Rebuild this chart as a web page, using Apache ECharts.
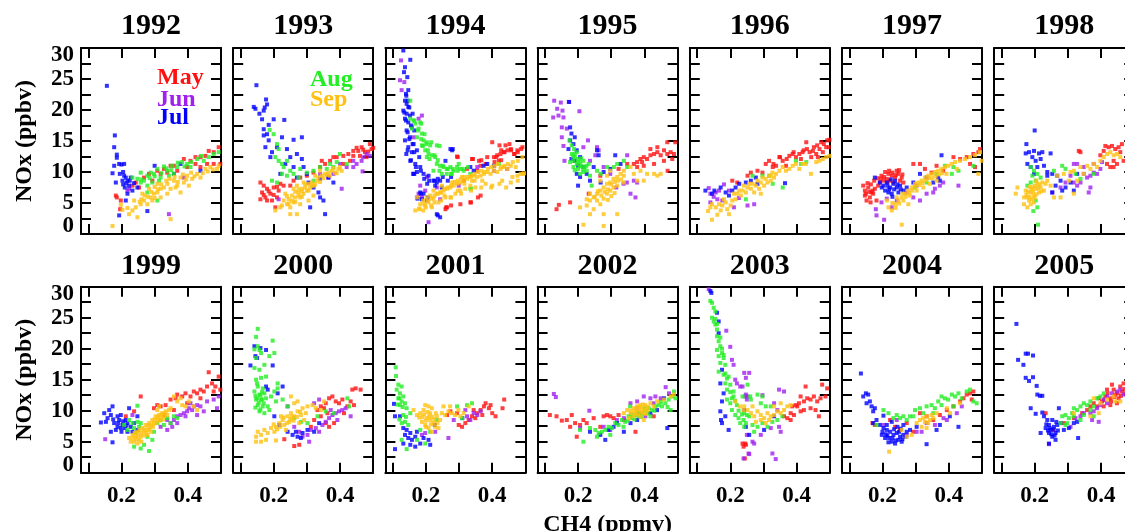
<!DOCTYPE html>
<html>
<head>
<meta charset="utf-8">
<script src="https://cdn.jsdelivr.net/npm/echarts@6/dist/echarts.min.js"></script>
<style>
  html, body { margin: 0; padding: 0; background: #fff; }
  #chart { width: 1125px; height: 531px; }
</style>
</head>
<body>
<div id="chart"></div>
<script>
// panels, in reading order
const years = [1992, 1993, 1994, 1995, 1996, 1997, 1998, 1999, 2000, 2001, 2002, 2003, 2004, 2005]
const months = ['May', 'Jun', 'Jul', 'Aug', 'Sep']
const monthColors = ['#ff1010', '#a020f0', '#0000ff', '#22ee22', '#ffc010']
const xTicks = [0.1, 0.2, 0.3, 0.4]
const xLabels = [0.2, 0.4]

// [CH4, NOx, CH4, NOx, ...] per year
const MAY = [
  [0.183,6.2, 0.186,5.9, 0.198,5.4, 0.196,4.0, 0.233,7.8, 0.243,8.3, 0.253,7.5, 0.268,9.1, 0.283,9.7, 0.308,10.2, 0.328,10.5, 0.358,11.0, 0.388,12.1, 0.408,11.8, 0.423,12.4, 0.438,12.4, 0.453,12.6, 0.463,13.4, 0.478,13.2, 0.493,14.0, 0.498,11.3, 0.458,11.3, 0.438,10.8, 0.398,10.8, 0.348,11.0, 0.368,10.2, 0.318,9.7, 0.293,8.6, 0.423,11.3, 0.478,11.3, 0.338,9.9],
  [0.16,8.3, 0.17,7.8, 0.18,7.3, 0.165,6.7, 0.175,5.9, 0.19,6.5, 0.2,7.5, 0.215,7.0, 0.23,7.8, 0.16,5.6, 0.18,5.4, 0.195,5.4, 0.205,4.3, 0.21,5.9, 0.22,8.1, 0.26,8.6, 0.28,9.1, 0.3,9.4, 0.32,9.9, 0.34,10.8, 0.355,11.3, 0.37,11.8, 0.39,12.4, 0.41,12.6, 0.425,12.9, 0.44,13.4, 0.455,13.4, 0.465,14.0, 0.475,13.2, 0.49,14.5, 0.495,13.7, 0.48,12.4, 0.46,12.6, 0.43,11.8, 0.41,11.3, 0.38,12.4, 0.345,11.8, 0.25,7.8, 0.17,6.3, 0.185,6.9, 0.2,6.3, 0.21,7.6, 0.44,12.6, 0.45,13.9, 0.47,13.6, 0.485,13.3, 0.5,13.9],
  [0.294,12.5, 0.339,12.1, 0.36,11.8, 0.38,11.3, 0.4,14.8, 0.405,12.4, 0.415,12.7, 0.425,12.9, 0.435,13.2, 0.446,13.5, 0.456,13.7, 0.466,12.9, 0.476,13.5, 0.491,14.0, 0.44,14.3, 0.42,11.8, 0.385,12.4, 0.365,11.0, 0.354,10.2, 0.264,4.3, 0.259,4.0, 0.334,5.1, 0.365,6.2, 0.314,8.6, 0.304,4.8, 0.324,10.5, 0.422,14.3, 0.427,13.5, 0.437,13.2, 0.452,14.5, 0.457,13.5, 0.467,12.9, 0.477,13.2, 0.487,13.7, 0.412,12.4, 0.427,11.9, 0.407,11.6, 0.367,11.9, 0.342,12.1, 0.296,12.4, 0.336,5.1, 0.357,5.9, 0.261,4.3, 0.276,4.6],
  [0.135,4.0, 0.142,4.7, 0.176,5.1, 0.232,6.5, 0.267,9.4, 0.322,10.5, 0.368,11.3, 0.378,11.6, 0.388,12.1, 0.398,12.4, 0.408,12.1, 0.418,12.7, 0.429,12.9, 0.439,13.2, 0.449,12.7, 0.459,13.5, 0.469,12.9, 0.479,13.2, 0.489,12.9, 0.493,14.8, 0.469,14.8, 0.439,14.0, 0.418,13.7, 0.393,11.6, 0.378,10.8, 0.398,11.0, 0.429,11.3, 0.459,11.8, 0.484,12.1, 0.47,10.2, 0.348,11.3],
  [0.206,8.6, 0.221,8.3, 0.252,9.4, 0.262,9.9, 0.282,10.2, 0.307,11.3, 0.317,11.8, 0.338,11.0, 0.348,12.4, 0.358,11.8, 0.368,11.0, 0.378,12.6, 0.388,12.9, 0.398,12.4, 0.408,12.9, 0.418,13.2, 0.429,14.8, 0.439,13.2, 0.449,13.4, 0.459,12.9, 0.469,13.7, 0.474,14.8, 0.479,13.2, 0.489,14.0, 0.499,15.2, 0.444,12.4, 0.464,12.4, 0.413,12.1, 0.297,9.9, 0.328,10.8, 0.33,11.3, 0.35,12.4, 0.37,12.1, 0.391,13.2, 0.421,13.5, 0.431,13.7, 0.452,14.0, 0.462,14.3, 0.482,14.5, 0.492,15.1, 0.497,14.0],
  [0.142,7.8, 0.147,7.0, 0.157,7.5, 0.167,6.7, 0.162,5.9, 0.182,5.4, 0.172,6.5, 0.177,7.3, 0.187,7.8, 0.192,8.3, 0.203,8.6, 0.213,8.9, 0.218,9.7, 0.228,9.4, 0.238,9.1, 0.248,9.7, 0.253,8.6, 0.258,9.1, 0.263,8.3, 0.233,8.3, 0.243,10.2, 0.197,9.4, 0.208,10.0, 0.223,8.6, 0.147,6.2, 0.152,5.4, 0.164,5.1, 0.313,11.3, 0.328,10.5, 0.363,11.0, 0.383,10.2, 0.414,12.4, 0.434,12.1, 0.454,12.4, 0.474,12.9, 0.489,13.2, 0.494,13.7, 0.479,10.8, 0.464,11.3, 0.348,9.9, 0.293,11.3, 0.155,8.2, 0.165,8.0, 0.175,8.6, 0.185,9.0, 0.195,8.9, 0.205,9.2, 0.215,8.4, 0.22,10.2, 0.23,9.9, 0.24,9.5, 0.25,10.3, 0.26,9.6, 0.17,7.0, 0.16,6.8, 0.15,6.5],
  [0.333,13.4, 0.338,13.2, 0.398,12.7, 0.408,13.4, 0.413,14.2, 0.423,14.0, 0.433,14.2, 0.443,13.7, 0.453,14.0, 0.463,14.5, 0.418,11.3, 0.428,10.8, 0.438,11.8, 0.448,11.3, 0.458,13.2, 0.468,11.8, 0.438,10.8],
  [0.238,9.9, 0.213,9.1, 0.258,12.3, 0.298,10.4, 0.308,10.9, 0.318,10.7, 0.333,10.9, 0.348,11.8, 0.363,12.0, 0.368,12.6, 0.383,12.3, 0.393,12.8, 0.408,12.3, 0.418,13.1, 0.428,12.8, 0.438,13.4, 0.448,13.1, 0.458,13.9, 0.463,16.2, 0.473,14.4, 0.483,13.9, 0.493,15.5, 0.498,13.4, 0.478,13.1, 0.438,12.0, 0.398,11.2, 0.358,10.1, 0.328,9.3],
  [0.232,5.4, 0.277,4.5, 0.262,4.3, 0.312,7.4, 0.322,8.5, 0.332,10.1, 0.342,10.7, 0.352,10.4, 0.357,11.2, 0.367,12.0, 0.377,12.3, 0.387,11.5, 0.397,11.2, 0.407,11.8, 0.422,10.7, 0.432,11.5, 0.442,10.9, 0.437,13.4, 0.447,13.6, 0.462,13.4, 0.342,9.1, 0.357,8.0, 0.367,7.4, 0.382,8.0, 0.362,9.6, 0.412,9.6],
  [0.264,9.3, 0.274,9.9, 0.294,9.6, 0.299,7.7, 0.309,7.4, 0.319,8.0, 0.329,8.5, 0.339,9.1, 0.349,8.8, 0.354,9.6, 0.365,10.1, 0.375,10.7, 0.38,11.2, 0.39,10.4, 0.4,9.6, 0.41,9.1, 0.395,10.9, 0.344,10.1, 0.431,10.4, 0.436,11.8, 0.37,9.3],
  [0.115,9.3, 0.135,9.1, 0.151,8.4, 0.166,8.5, 0.181,9.3, 0.191,8.0, 0.206,7.7, 0.196,5.8, 0.216,8.5, 0.226,8.0, 0.176,7.4, 0.247,8.8, 0.267,7.4, 0.277,9.1, 0.287,9.3, 0.297,9.1, 0.307,8.8, 0.322,9.3, 0.338,8.5, 0.373,6.6, 0.383,9.6, 0.428,9.1],
  [0.24,4.2, 0.245,4.7, 0.237,4.7, 0.247,4.5, 0.244,2.3, 0.362,9.1, 0.372,8.8, 0.382,8.5, 0.392,9.3, 0.402,10.7, 0.407,11.2, 0.412,12.3, 0.422,11.5, 0.432,12.0, 0.427,13.9, 0.442,11.8, 0.452,12.3, 0.462,11.5, 0.472,12.0, 0.477,14.2, 0.492,13.6, 0.487,12.3, 0.467,9.1, 0.457,10.1, 0.442,10.4, 0.422,10.1, 0.397,10.9, 0.387,10.7, 0.382,9.6, 0.412,9.9],
  [0.17,8.0, 0.177,7.7, 0.223,8.5, 0.238,7.4, 0.253,6.9, 0.273,8.0, 0.293,6.6, 0.313,9.6, 0.333,9.1, 0.353,8.5, 0.373,9.3, 0.394,10.1, 0.414,10.7, 0.434,11.5, 0.444,12.0, 0.454,12.6, 0.464,12.8, 0.474,13.1, 0.469,11.8],
  [0.233,9.6, 0.258,6.9, 0.288,8.0, 0.318,8.8, 0.343,9.6, 0.358,10.1, 0.378,11.2, 0.393,12.0, 0.403,11.5, 0.413,12.3, 0.418,13.4, 0.428,12.0, 0.433,14.2, 0.438,13.4, 0.443,12.6, 0.448,11.2, 0.453,12.0, 0.458,13.9, 0.468,14.4, 0.463,13.1, 0.473,12.8, 0.408,10.7, 0.428,10.9, 0.388,10.7, 0.368,10.7, 0.41,11.7, 0.42,12.8, 0.43,11.5, 0.44,12.2, 0.45,12.8, 0.46,12.4, 0.47,13.5, 0.48,13.0, 0.49,12.8]
]

const JUN = [
  [0.343,3.2, 0.218,7.0, 0.223,7.3, 0.388,9.1],
  [0.4,11.3, 0.42,10.8, 0.44,11.8, 0.45,11.3, 0.465,11.8, 0.47,12.4, 0.48,12.9, 0.49,12.6, 0.468,10.1, 0.405,7.3, 0.38,9.7, 0.365,9.1, 0.34,9.7, 0.215,5.6, 0.44,10.8],
  [0.125,28.0, 0.122,24.8, 0.127,23.2, 0.135,24.5, 0.178,18.6, 0.188,19.1, 0.163,15.6, 0.161,9.7, 0.183,7.8, 0.198,7.0, 0.188,5.9, 0.233,7.5, 0.208,1.9, 0.243,5.6, 0.173,5.9, 0.178,6.5, 0.299,7.8, 0.355,10.8, 0.405,10.2, 0.445,10.5, 0.203,9.2],
  [0.128,21.5, 0.148,21.2, 0.137,20.2, 0.153,19.9, 0.172,21.3, 0.125,18.8, 0.141,19.1, 0.156,18.8, 0.151,17.2, 0.166,17.0, 0.151,15.6, 0.204,19.8, 0.156,14.2, 0.159,11.8, 0.216,14.0, 0.23,15.1, 0.257,14.0, 0.262,13.5, 0.236,11.8, 0.277,10.8, 0.297,9.7, 0.347,8.3, 0.368,8.6, 0.378,8.3, 0.373,5.9, 0.358,6.5, 0.348,12.7, 0.337,8.1, 0.315,7.5, 0.252,12.7],
  [0.135,7.4, 0.14,6.5, 0.15,6.0, 0.161,5.6, 0.14,5.1, 0.181,8.0, 0.156,6.7, 0.166,7.0, 0.196,7.0, 0.211,4.3, 0.252,4.6, 0.272,4.8, 0.226,5.8, 0.176,5.4],
  [0.18,4.0, 0.205,2.3, 0.182,3.0, 0.197,5.1, 0.213,5.7, 0.228,4.3, 0.243,5.4, 0.293,5.9, 0.313,5.4, 0.333,6.5, 0.353,6.7, 0.358,7.3, 0.373,7.8, 0.383,8.3, 0.429,7.8, 0.303,7.8, 0.273,6.7],
  [0.278,7.5, 0.293,8.3, 0.308,9.4, 0.318,8.3, 0.328,7.8, 0.338,8.3, 0.348,9.7, 0.358,9.1, 0.368,9.4, 0.378,9.9, 0.388,9.7, 0.398,10.5, 0.368,7.5, 0.363,6.7, 0.348,10.8, 0.318,11.3, 0.328,11.3, 0.403,11.6, 0.253,6.7, 0.378,11.3],
  [0.151,5.4, 0.233,9.3, 0.318,7.4, 0.338,8.5, 0.348,8.0, 0.358,8.5, 0.368,9.1, 0.378,9.3, 0.388,9.6, 0.398,9.9, 0.403,10.4, 0.413,10.1, 0.418,10.7, 0.428,10.9, 0.438,10.7, 0.448,9.9, 0.408,11.2, 0.393,9.1, 0.368,8.0, 0.353,7.4, 0.338,6.9, 0.478,11.8, 0.493,12.3, 0.488,10.4, 0.458,11.5, 0.428,9.3],
  [0.242,10.7, 0.262,7.4, 0.277,6.6, 0.287,5.8, 0.302,6.1, 0.312,6.9, 0.327,7.2, 0.337,6.6, 0.347,7.7, 0.357,8.2, 0.367,8.8, 0.377,9.3, 0.387,9.6, 0.397,9.9, 0.407,10.1, 0.417,10.4, 0.432,9.1, 0.337,11.8, 0.322,11.2, 0.372,10.1, 0.392,8.5, 0.307,5.0],
  [0.188,6.1, 0.198,6.4, 0.228,6.6, 0.268,5.6, 0.284,8.5, 0.324,9.1, 0.344,9.6, 0.355,9.3, 0.365,9.9, 0.334,8.5, 0.319,10.1],
  [0.127,12.7, 0.133,12.2, 0.234,10.0, 0.206,7.2, 0.277,7.4, 0.297,6.9, 0.317,8.5, 0.338,8.8, 0.358,11.2, 0.378,11.5, 0.398,12.3, 0.418,12.0, 0.433,12.3, 0.449,12.0, 0.464,13.8, 0.474,12.8, 0.428,11.2, 0.378,10.4, 0.403,9.1],
  [0.135,29.6, 0.188,22.9, 0.2,20.3, 0.205,18.2, 0.21,17.4, 0.215,15.0, 0.22,14.4, 0.23,13.9, 0.245,12.3, 0.25,11.8, 0.25,6.1, 0.24,2.3, 0.255,3.1, 0.242,16.1, 0.257,16.1, 0.247,15.3, 0.237,13.9, 0.247,12.6, 0.252,12.3, 0.297,12.5, 0.332,11.2, 0.347,13.4, 0.362,13.1, 0.267,5.0, 0.272,4.7, 0.257,3.0, 0.327,3.1, 0.337,2.2, 0.347,7.4, 0.322,7.2, 0.292,6.1, 0.352,6.6, 0.342,10.1],
  [0.203,7.7, 0.273,6.1, 0.303,6.6, 0.318,6.6, 0.333,8.0, 0.358,7.7, 0.384,8.8, 0.394,8.5, 0.424,9.6, 0.439,10.7, 0.243,8.5],
  [0.243,4.6, 0.308,7.4, 0.323,8.8, 0.338,9.1, 0.348,9.6, 0.368,9.6, 0.378,9.9, 0.388,10.4, 0.398,10.9, 0.408,11.8, 0.418,12.3, 0.433,12.8, 0.448,13.1, 0.458,13.4, 0.468,12.6, 0.393,8.2, 0.373,8.5, 0.418,11.2]
]

const JUL = [
  [0.156,23.9, 0.18,15.9, 0.178,14.0, 0.186,12.8, 0.186,12.3, 0.178,11.0, 0.173,9.8, 0.193,11.3, 0.2,11.2, 0.208,11.3, 0.183,8.3, 0.208,9.4, 0.213,9.1, 0.218,8.6, 0.203,8.6, 0.228,9.1, 0.223,7.8, 0.21,7.5, 0.238,8.2, 0.233,7.0, 0.213,5.4, 0.193,3.0, 0.218,6.5, 0.248,7.5, 0.278,3.7, 0.3,11.0, 0.358,9.7, 0.378,11.3, 0.438,10.2, 0.195,9.7, 0.205,10.0, 0.215,8.2, 0.225,8.6, 0.205,8.0],
  [0.148,24.0, 0.14,20.5, 0.145,20.2, 0.157,19.4, 0.17,19.9, 0.177,21.7, 0.18,20.9, 0.173,20.4, 0.165,18.5, 0.17,16.9, 0.17,15.9, 0.18,16.1, 0.2,18.5, 0.185,17.6, 0.232,18.4, 0.175,14.0, 0.185,15.1, 0.21,14.0, 0.225,15.6, 0.26,15.2, 0.285,15.6, 0.24,13.7, 0.25,12.4, 0.27,12.9, 0.285,12.1, 0.29,10.8, 0.26,10.8, 0.235,11.3, 0.22,9.7, 0.27,9.1, 0.305,8.3, 0.32,7.5, 0.335,6.7, 0.35,5.4, 0.34,5.9, 0.355,3.2, 0.31,4.3, 0.365,9.1, 0.38,8.3, 0.3,9.7, 0.34,8.9, 0.19,12.4, 0.195,13.2],
  [0.132,29.6, 0.153,28.1, 0.137,26.9, 0.134,26.1, 0.144,25.3, 0.147,23.2, 0.141,22.3, 0.137,21.5, 0.142,21.0, 0.147,20.5, 0.132,19.9, 0.142,19.4, 0.152,19.1, 0.137,18.6, 0.147,18.0, 0.158,17.2, 0.142,16.7, 0.152,15.6, 0.137,15.1, 0.163,14.5, 0.147,14.0, 0.141,12.9, 0.158,13.2, 0.173,13.5, 0.153,11.8, 0.168,11.3, 0.183,10.8, 0.173,10.0, 0.193,9.7, 0.163,9.7, 0.208,9.4, 0.223,8.6, 0.233,8.3, 0.243,8.6, 0.248,7.5, 0.228,7.8, 0.204,8.1, 0.193,6.5, 0.183,6.7, 0.188,5.6, 0.204,5.4, 0.233,3.2, 0.243,2.7, 0.274,13.7, 0.279,13.5, 0.334,10.8, 0.344,10.2, 0.374,11.0, 0.385,11.3, 0.405,11.0, 0.259,11.8, 0.14,22.6, 0.145,21.5, 0.135,19.6, 0.15,20.4, 0.16,19.4, 0.14,18.3, 0.155,17.5, 0.145,16.4, 0.165,16.7, 0.15,15.3, 0.16,14.5, 0.145,13.5, 0.165,13.2, 0.18,12.4, 0.155,11.9, 0.17,10.8, 0.185,10.2, 0.165,9.7, 0.195,8.9, 0.21,8.6, 0.226,8.6, 0.236,8.9, 0.251,9.2, 0.266,8.6, 0.276,9.2, 0.281,13.7, 0.185,6.5, 0.206,5.9, 0.236,3.0, 0.175,5.7],
  [0.173,21.3, 0.176,17.2, 0.18,16.2, 0.19,15.6, 0.176,15.1, 0.186,14.5, 0.171,13.7, 0.196,13.5, 0.206,12.4, 0.18,12.1, 0.19,11.8, 0.2,11.0, 0.216,10.8, 0.196,9.7, 0.206,9.2, 0.226,9.7, 0.236,8.6, 0.2,7.8, 0.257,13.5, 0.262,12.7, 0.247,10.8, 0.277,10.0, 0.312,12.7, 0.268,8.3, 0.297,10.5, 0.328,11.3],
  [0.145,6.5, 0.171,7.5, 0.186,6.7, 0.206,7.0, 0.216,7.5, 0.227,8.1, 0.247,8.3, 0.277,9.1, 0.282,8.1, 0.262,8.6, 0.365,8.2, 0.196,6.2, 0.152,7.0, 0.125,7.0],
  [0.177,9.1, 0.192,8.3, 0.203,7.8, 0.213,8.3, 0.223,7.5, 0.233,8.1, 0.243,7.5, 0.218,6.7, 0.228,6.5, 0.248,6.7, 0.208,7.0, 0.238,8.6, 0.253,7.8, 0.263,7.0, 0.198,7.5, 0.273,7.5, 0.293,8.3, 0.313,9.7, 0.333,9.1, 0.353,8.3, 0.373,8.6, 0.378,12.7, 0.368,9.1, 0.215,7.8, 0.225,8.8, 0.235,7.2, 0.245,8.0, 0.22,7.2, 0.23,6.0, 0.255,7.2],
  [0.2,16.7, 0.175,14.5, 0.173,13.0, 0.183,13.2, 0.198,13.4, 0.213,13.0, 0.223,13.2, 0.248,13.0, 0.193,12.4, 0.203,11.8, 0.218,12.1, 0.178,11.3, 0.188,10.8, 0.208,10.8, 0.228,11.0, 0.238,10.0, 0.253,9.7, 0.268,9.4, 0.278,8.6, 0.263,7.8, 0.283,7.0, 0.253,6.7, 0.293,7.5, 0.308,8.3, 0.328,9.7, 0.318,7.0, 0.238,9.4, 0.198,9.7],
  [0.153,8.2, 0.158,8.8, 0.168,9.3, 0.173,10.7, 0.163,10.1, 0.148,9.6, 0.178,8.0, 0.183,6.9, 0.168,6.6, 0.193,8.5, 0.198,9.3, 0.213,8.5, 0.218,8.0, 0.228,7.4, 0.203,7.7, 0.188,7.4, 0.233,6.6, 0.218,6.6, 0.238,8.0, 0.248,9.1, 0.223,10.4, 0.188,9.1, 0.173,4.9, 0.198,7.2, 0.138,8.1, 0.248,6.9, 0.175,8.6, 0.19,8.0, 0.205,8.3, 0.21,7.2, 0.2,6.6, 0.215,7.6],
  [0.13,17.3, 0.145,18.8, 0.15,18.5, 0.16,20.1, 0.142,20.4, 0.177,19.8, 0.197,17.3, 0.177,13.9, 0.182,13.4, 0.212,12.8, 0.227,13.9, 0.202,9.1, 0.217,7.7, 0.242,6.6, 0.257,6.1, 0.272,5.8, 0.287,6.4, 0.282,5.6, 0.302,6.9, 0.322,6.6, 0.337,8.0, 0.267,6.6],
  [0.104,11.1, 0.107,9.1, 0.122,9.1, 0.132,7.2, 0.142,6.9, 0.153,6.4, 0.137,6.1, 0.147,5.6, 0.158,5.3, 0.168,5.8, 0.132,4.7, 0.153,4.5, 0.168,4.2, 0.183,4.7, 0.193,5.6, 0.208,5.3, 0.213,4.5, 0.107,3.8, 0.173,6.6, 0.227,7.7, 0.31,8.8],
  [0.236,6.6, 0.267,6.1, 0.282,5.3, 0.292,6.9, 0.307,7.4, 0.317,8.0, 0.338,6.6, 0.358,8.0, 0.378,8.5, 0.418,9.6, 0.438,10.1, 0.469,7.2, 0.459,12.0],
  [0.14,29.3, 0.143,29.0, 0.16,25.8, 0.165,24.4, 0.165,22.5, 0.175,16.6, 0.17,14.4, 0.18,12.8, 0.175,11.5, 0.17,9.9, 0.172,8.5, 0.175,8.0, 0.195,6.9, 0.185,9.1, 0.242,10.1, 0.247,7.4, 0.302,6.9, 0.332,9.1, 0.257,6.1],
  [0.135,16.0, 0.142,12.3, 0.15,12.8, 0.157,12.6, 0.162,11.5, 0.152,11.2, 0.167,10.7, 0.177,10.4, 0.172,9.9, 0.172,8.0, 0.192,7.7, 0.203,7.2, 0.213,6.9, 0.223,6.6, 0.233,6.1, 0.243,6.4, 0.253,5.8, 0.263,6.1, 0.273,6.6, 0.248,5.3, 0.228,5.0, 0.238,4.7, 0.218,4.9, 0.258,5.0, 0.213,7.7, 0.228,8.2, 0.263,7.7, 0.283,6.9, 0.303,7.4, 0.333,4.6, 0.363,6.9, 0.373,7.7, 0.403,9.1, 0.429,7.4, 0.198,6.1, 0.203,9.2, 0.208,5.6, 0.182,8.5, 0.2,6.6, 0.21,6.2, 0.22,5.6, 0.23,5.6, 0.24,5.2, 0.25,6.6, 0.26,5.4, 0.27,5.8, 0.235,7.0, 0.245,7.4, 0.255,7.1, 0.215,6.0],
  [0.145,24.0, 0.15,18.2, 0.173,19.2, 0.18,19.2, 0.195,18.9, 0.166,17.4, 0.173,15.3, 0.195,15.4, 0.183,14.8, 0.206,14.0, 0.208,12.6, 0.216,12.4, 0.223,12.4, 0.188,10.4, 0.203,9.5, 0.223,9.7, 0.228,9.1, 0.238,8.5, 0.243,7.7, 0.253,8.5, 0.233,7.2, 0.248,6.9, 0.258,7.4, 0.263,6.4, 0.268,7.7, 0.278,8.0, 0.273,10.4, 0.253,5.8, 0.263,5.3, 0.243,6.4, 0.288,6.9, 0.303,7.2, 0.318,8.0, 0.328,8.2, 0.331,5.6, 0.243,4.7, 0.218,6.4, 0.235,7.8, 0.245,7.2, 0.25,6.2, 0.255,7.0, 0.26,6.0, 0.27,6.8, 0.265,8.2, 0.24,6.8]
]

const AUG = [
  [0.233,9.1, 0.248,8.9, 0.258,8.3, 0.268,8.6, 0.278,9.4, 0.288,9.9, 0.298,9.7, 0.308,10.5, 0.318,9.1, 0.328,10.9, 0.338,10.2, 0.353,11.0, 0.368,10.8, 0.383,11.6, 0.398,11.3, 0.408,10.8, 0.428,12.1, 0.448,11.8, 0.463,12.4, 0.478,12.9, 0.493,13.2, 0.293,8.3, 0.313,8.6, 0.258,9.9, 0.278,7.8, 0.343,9.4, 0.358,9.7, 0.308,5.4, 0.278,6.7, 0.26,8.8, 0.285,9.0, 0.3,9.3, 0.32,9.8, 0.335,10.6, 0.35,10.3, 0.37,11.5, 0.39,10.9, 0.41,11.6, 0.44,12.6],
  [0.188,16.8, 0.2,16.1, 0.21,14.5, 0.215,13.7, 0.205,12.4, 0.215,11.8, 0.225,11.3, 0.24,11.8, 0.23,10.8, 0.25,10.2, 0.26,9.7, 0.225,9.7, 0.24,9.4, 0.28,10.5, 0.3,9.9, 0.32,10.2, 0.34,10.8, 0.37,11.3, 0.38,10.8, 0.4,12.9, 0.42,11.3, 0.39,11.6, 0.36,10.5, 0.275,9.1, 0.21,8.3, 0.195,8.6, 0.32,8.6],
  [0.153,18.6, 0.163,18.3, 0.168,17.8, 0.183,18.0, 0.158,17.0, 0.178,17.0, 0.188,16.2, 0.173,15.6, 0.193,15.1, 0.203,14.8, 0.188,14.3, 0.213,14.3, 0.233,14.3, 0.198,13.5, 0.208,12.9, 0.218,12.7, 0.228,12.4, 0.203,12.4, 0.233,11.3, 0.243,11.0, 0.253,10.8, 0.263,10.5, 0.274,10.8, 0.284,10.2, 0.294,10.8, 0.304,10.5, 0.314,10.2, 0.334,9.7, 0.263,9.7, 0.248,9.7, 0.278,9.7, 0.334,7.3, 0.42,11.3, 0.223,10.2, 0.299,11.3, 0.153,21.5, 0.165,18.3, 0.186,17.8, 0.176,16.7, 0.196,16.1, 0.186,15.3, 0.201,14.5, 0.216,14.8, 0.206,13.5, 0.226,12.7, 0.211,12.1, 0.236,11.9, 0.251,11.0, 0.266,10.5, 0.281,10.5, 0.296,10.2, 0.311,10.5, 0.327,10.8, 0.241,10.2, 0.276,9.7, 0.336,7.3, 0.191,14.2, 0.241,14.2],
  [0.174,15.1, 0.181,14.3, 0.188,13.7, 0.196,13.2, 0.181,12.9, 0.19,12.4, 0.2,12.1, 0.186,11.8, 0.196,11.3, 0.206,11.6, 0.216,11.8, 0.21,11.0, 0.22,10.8, 0.232,11.3, 0.2,10.5, 0.216,10.0, 0.226,10.2, 0.206,9.7, 0.236,9.4, 0.186,10.8, 0.176,11.6, 0.241,7.8, 0.257,10.2, 0.287,10.8, 0.318,11.3, 0.338,11.8, 0.348,10.8, 0.308,10.8, 0.268,9.7, 0.19,12.9, 0.2,11.6, 0.21,12.2, 0.215,10.4, 0.225,11.0, 0.19,10.3, 0.205,10.9, 0.185,12.5],
  [0.267,9.4, 0.317,9.4, 0.328,8.1, 0.358,7.5, 0.398,11.8, 0.413,11.3, 0.429,11.6, 0.247,5.6, 0.297,9.4],
  [0.298,7.5, 0.333,8.3, 0.363,9.7, 0.388,11.0, 0.409,9.7, 0.429,10.2, 0.474,11.0, 0.414,10.8],
  [0.188,10.8, 0.198,10.2, 0.193,9.4, 0.208,9.7, 0.218,9.1, 0.203,8.6, 0.188,8.3, 0.178,7.8, 0.203,5.4, 0.208,4.3, 0.196,3.7, 0.21,1.5, 0.283,11.0, 0.323,9.7, 0.338,8.9, 0.293,10.5, 0.378,9.7, 0.258,10.2],
  [0.208,7.7, 0.223,8.5, 0.233,8.0, 0.238,7.2, 0.248,8.2, 0.253,7.4, 0.258,8.0, 0.248,10.8, 0.243,6.4, 0.238,4.2, 0.258,3.9, 0.268,4.5, 0.283,3.5, 0.278,5.8, 0.298,6.6, 0.308,8.0, 0.318,8.5, 0.328,7.7, 0.338,8.8, 0.348,8.0, 0.358,9.1, 0.368,8.8, 0.218,6.9, 0.293,5.3],
  [0.152,23.2, 0.147,21.9, 0.152,20.4, 0.142,19.9, 0.157,19.8, 0.162,19.3, 0.147,18.5, 0.197,21.3, 0.187,18.8, 0.202,19.3, 0.142,16.9, 0.157,16.6, 0.172,17.4, 0.162,15.3, 0.177,15.5, 0.147,15.0, 0.152,13.9, 0.167,13.6, 0.142,13.1, 0.157,12.6, 0.172,12.8, 0.147,11.8, 0.162,11.8, 0.177,12.0, 0.152,10.9, 0.167,10.7, 0.182,10.7, 0.157,9.9, 0.172,9.6, 0.187,10.1, 0.202,13.1, 0.212,13.6, 0.192,12.3, 0.207,11.5, 0.227,11.8, 0.242,10.7, 0.262,8.8, 0.282,8.2, 0.302,8.0, 0.332,9.1, 0.357,9.9, 0.382,9.6, 0.422,12.0, 0.427,10.7, 0.212,14.4, 0.145,12.4, 0.15,12.0, 0.155,11.3, 0.16,12.5, 0.165,11.8, 0.17,11.2, 0.145,10.5, 0.16,10.2, 0.165,13.0, 0.15,14.4],
  [0.109,17.0, 0.11,15.6, 0.117,14.2, 0.127,13.9, 0.112,13.4, 0.122,12.8, 0.132,12.3, 0.117,12.0, 0.127,11.5, 0.137,11.2, 0.122,10.9, 0.142,10.4, 0.132,9.3, 0.153,9.6, 0.127,8.0, 0.137,8.2, 0.147,7.7, 0.127,5.3, 0.142,3.8, 0.173,5.3, 0.198,4.7, 0.213,6.6, 0.294,10.7, 0.324,10.9, 0.339,11.2, 0.309,8.8, 0.183,6.9, 0.233,8.5, 0.12,12.0, 0.115,11.0, 0.13,10.6, 0.14,9.0, 0.12,8.6],
  [0.206,6.9, 0.216,5.0, 0.236,7.2, 0.252,6.9, 0.262,6.4, 0.272,6.6, 0.282,6.9, 0.292,7.4, 0.302,7.2, 0.312,8.0, 0.322,7.7, 0.332,8.5, 0.342,8.2, 0.352,9.1, 0.362,8.8, 0.372,9.3, 0.383,9.1, 0.393,9.6, 0.403,9.9, 0.413,10.4, 0.423,10.1, 0.433,10.7, 0.443,10.9, 0.453,10.7, 0.463,11.2, 0.473,11.8, 0.484,12.3, 0.494,12.0, 0.489,13.1, 0.479,10.1, 0.337,7.4, 0.297,6.1, 0.257,5.8, 0.357,10.7, 0.418,9.1, 0.35,8.4, 0.36,9.4, 0.37,8.6, 0.38,9.7, 0.39,9.0, 0.4,10.4, 0.41,9.6, 0.43,10.0, 0.45,11.4, 0.47,10.6],
  [0.14,27.7, 0.145,27.4, 0.15,26.6, 0.155,26.0, 0.145,25.0, 0.15,24.4, 0.155,23.9, 0.16,23.1, 0.16,22.0, 0.165,21.2, 0.17,20.4, 0.16,19.8, 0.175,19.3, 0.165,18.8, 0.18,18.5, 0.17,17.7, 0.185,17.4, 0.165,16.3, 0.18,15.8, 0.195,15.5, 0.185,14.4, 0.2,14.2, 0.19,13.4, 0.21,13.1, 0.19,11.8, 0.2,11.2, 0.21,12.3, 0.22,10.9, 0.205,10.1, 0.215,9.3, 0.225,8.8, 0.23,8.0, 0.24,8.5, 0.25,9.3, 0.26,12.3, 0.252,14.2, 0.237,12.3, 0.262,11.8, 0.282,12.6, 0.297,12.3, 0.242,9.6, 0.257,9.1, 0.247,8.0, 0.267,7.7, 0.282,7.4, 0.297,8.0, 0.312,7.4, 0.327,8.2, 0.342,8.5, 0.357,9.1, 0.242,7.4, 0.272,6.6, 0.292,11.2, 0.307,10.7, 0.322,10.7, 0.155,24.8, 0.16,24.0, 0.17,21.8, 0.175,20.0, 0.18,19.0, 0.185,16.0, 0.19,15.2, 0.2,13.0, 0.205,12.0, 0.215,11.6, 0.225,10.0, 0.235,9.4],
  [0.203,10.1, 0.218,9.6, 0.233,8.8, 0.243,9.3, 0.253,8.8, 0.263,9.1, 0.273,8.5, 0.283,9.1, 0.298,10.1, 0.313,10.4, 0.323,9.6, 0.333,10.7, 0.348,10.9, 0.358,10.4, 0.368,11.5, 0.378,12.3, 0.388,12.0, 0.398,11.8, 0.409,12.6, 0.419,12.3, 0.429,12.8, 0.439,12.0, 0.454,13.1, 0.464,13.4, 0.474,11.5, 0.484,11.2, 0.353,9.6, 0.378,10.9, 0.414,10.7, 0.293,9.1, 0.182,7.7],
  [0.283,9.1, 0.293,9.3, 0.303,8.8, 0.313,9.6, 0.318,10.4, 0.328,10.1, 0.338,10.7, 0.348,11.2, 0.358,10.9, 0.368,11.5, 0.378,10.7, 0.388,12.0, 0.398,12.3, 0.408,12.8, 0.298,8.0, 0.318,9.1, 0.348,9.3, 0.368,10.1, 0.378,9.1, 0.278,8.0, 0.338,8.5, 0.293,7.7]
]

const SEP = [
  [0.173,1.3, 0.198,4.7, 0.203,3.9, 0.218,4.2, 0.233,3.8, 0.243,4.3, 0.248,2.7, 0.258,4.8, 0.268,5.4, 0.278,4.8, 0.288,5.9, 0.298,6.5, 0.308,6.7, 0.318,7.3, 0.328,7.5, 0.338,8.1, 0.348,7.3, 0.358,8.6, 0.368,7.8, 0.378,9.1, 0.388,8.3, 0.398,9.4, 0.413,8.9, 0.428,9.7, 0.438,9.1, 0.453,10.5, 0.468,10.8, 0.488,10.5, 0.493,11.0, 0.348,2.4, 0.318,5.9, 0.293,5.4, 0.263,6.5, 0.283,7.3, 0.308,8.1, 0.338,6.5, 0.378,6.7, 0.238,5.4, 0.223,3.2, 0.363,7.5, 0.403,7.8, 0.26,5.6, 0.27,6.2, 0.29,6.8, 0.3,7.6, 0.31,7.2, 0.32,8.0, 0.335,8.6, 0.345,8.9, 0.36,9.2, 0.37,8.4, 0.385,9.6, 0.395,8.8, 0.41,9.9, 0.42,9.3, 0.445,9.8, 0.46,10.1, 0.475,10.4, 0.255,5.2, 0.28,6.0, 0.3,5.8],
  [0.205,3.8, 0.225,4.6, 0.23,5.4, 0.24,4.8, 0.25,4.3, 0.26,5.1, 0.27,3.2, 0.245,5.6, 0.255,6.2, 0.265,5.9, 0.275,6.7, 0.28,5.9, 0.285,7.3, 0.29,6.5, 0.295,7.5, 0.3,7.0, 0.305,8.1, 0.31,7.5, 0.315,8.3, 0.32,7.8, 0.33,8.6, 0.335,9.1, 0.345,9.4, 0.355,9.7, 0.365,9.9, 0.375,10.2, 0.385,9.9, 0.395,10.5, 0.405,10.2, 0.26,7.3, 0.27,7.8, 0.29,8.3, 0.235,6.5, 0.28,4.8, 0.32,6.2, 0.25,3.2, 0.305,5.4, 0.325,9.4, 0.34,10.2, 0.22,4.3, 0.265,6.8, 0.275,7.2, 0.285,6.9, 0.295,8.0, 0.305,7.0, 0.315,7.8, 0.325,8.0, 0.34,8.4, 0.35,9.0, 0.36,9.5, 0.37,9.4, 0.38,10.6, 0.39,9.8, 0.4,10.8, 0.245,4.9, 0.255,5.4, 0.265,5.2, 0.275,6.2, 0.285,6.0, 0.24,6.1],
  [0.168,3.8, 0.181,4.0, 0.192,3.8, 0.197,4.6, 0.208,5.1, 0.218,4.3, 0.192,5.4, 0.202,5.9, 0.213,6.2, 0.223,5.7, 0.233,6.5, 0.243,6.7, 0.254,7.0, 0.264,7.3, 0.274,7.5, 0.284,7.8, 0.294,8.1, 0.304,8.3, 0.314,8.6, 0.324,8.9, 0.334,9.2, 0.344,9.4, 0.354,9.2, 0.365,9.4, 0.375,9.7, 0.385,10.0, 0.395,9.7, 0.405,10.2, 0.415,10.0, 0.425,10.5, 0.435,10.8, 0.446,10.5, 0.456,11.0, 0.471,10.8, 0.486,9.7, 0.496,9.8, 0.476,9.4, 0.461,9.2, 0.456,8.3, 0.43,8.6, 0.4,7.8, 0.38,8.1, 0.349,7.5, 0.319,7.3, 0.289,6.5, 0.259,5.9, 0.238,5.1, 0.274,5.9, 0.304,7.0, 0.334,7.8, 0.223,7.0, 0.248,7.8, 0.279,8.3, 0.309,9.2, 0.339,8.6, 0.37,8.6, 0.183,4.8, 0.491,12.4, 0.173,5.9, 0.18,4.1, 0.195,4.9, 0.206,5.4, 0.216,5.7, 0.226,6.2, 0.236,6.5, 0.246,6.7, 0.256,7.3, 0.266,7.5, 0.276,7.8, 0.286,8.4, 0.296,8.6, 0.306,8.9, 0.316,9.2, 0.327,9.2, 0.337,9.4, 0.347,9.7, 0.357,10.0, 0.367,10.2, 0.377,10.0, 0.387,10.5, 0.397,10.8, 0.407,11.0, 0.417,11.3, 0.427,10.8, 0.437,11.0, 0.447,11.3, 0.462,11.6, 0.477,11.8, 0.492,9.7, 0.477,8.6, 0.442,7.5, 0.422,8.1, 0.397,7.5, 0.367,7.5, 0.336,7.0, 0.306,6.5, 0.276,5.9, 0.246,5.4, 0.216,4.6, 0.2,4.3, 0.296,7.0, 0.316,8.1, 0.347,8.6, 0.256,6.2, 0.226,5.1],
  [0.206,4.3, 0.226,4.6, 0.236,5.4, 0.247,5.9, 0.257,6.5, 0.267,7.0, 0.277,7.5, 0.287,8.1, 0.297,8.3, 0.307,8.9, 0.318,9.2, 0.328,9.7, 0.338,9.4, 0.257,5.4, 0.267,4.8, 0.277,5.7, 0.287,6.5, 0.297,7.0, 0.307,7.5, 0.318,7.8, 0.277,3.2, 0.318,3.2, 0.216,1.5, 0.277,1.3, 0.236,3.2, 0.247,4.0, 0.226,5.6, 0.287,9.4, 0.297,10.2, 0.338,10.2, 0.358,10.8, 0.378,8.6, 0.398,8.6, 0.408,9.7, 0.429,9.7, 0.439,9.4, 0.449,9.7, 0.388,10.2, 0.368,9.7, 0.267,8.6, 0.338,8.3, 0.236,6.5, 0.25,6.0, 0.26,6.9, 0.27,6.2, 0.28,6.8, 0.29,7.2, 0.3,8.0, 0.31,8.4, 0.32,8.6, 0.33,8.8, 0.29,5.5, 0.3,6.1, 0.31,6.6],
  [0.133,3.7, 0.14,4.3, 0.145,4.8, 0.156,4.3, 0.161,3.1, 0.145,2.3, 0.171,3.8, 0.176,4.6, 0.186,5.1, 0.196,3.2, 0.191,4.0, 0.201,4.6, 0.206,5.4, 0.216,5.6, 0.221,6.5, 0.232,6.2, 0.237,7.0, 0.247,6.7, 0.252,7.5, 0.262,7.3, 0.267,8.1, 0.277,7.8, 0.282,8.6, 0.292,8.3, 0.297,9.1, 0.307,8.9, 0.317,9.4, 0.327,9.9, 0.338,9.7, 0.348,10.2, 0.358,10.8, 0.368,10.2, 0.378,10.5, 0.388,11.0, 0.398,11.3, 0.408,10.5, 0.418,11.3, 0.428,11.3, 0.443,9.7, 0.459,11.6, 0.469,11.8, 0.479,12.1, 0.489,12.4, 0.499,12.6, 0.211,6.5, 0.226,7.0, 0.241,7.8, 0.257,8.1, 0.272,6.7, 0.287,7.3, 0.302,7.8, 0.312,8.3, 0.322,8.6, 0.332,9.1, 0.292,6.5, 0.166,4.8, 0.181,5.6, 0.322,9.4],
  [0.218,4.3, 0.228,3.8, 0.238,4.8, 0.248,5.4, 0.258,5.9, 0.268,6.5, 0.278,7.0, 0.288,7.5, 0.298,8.1, 0.308,8.3, 0.318,8.6, 0.328,9.1, 0.338,9.4, 0.348,9.7, 0.358,10.0, 0.368,10.2, 0.378,10.5, 0.388,10.8, 0.398,11.0, 0.409,11.3, 0.419,11.6, 0.434,11.8, 0.449,12.1, 0.464,12.4, 0.479,12.7, 0.494,13.2, 0.499,11.8, 0.258,1.5, 0.243,5.9, 0.263,5.4, 0.283,6.2, 0.303,7.0, 0.323,7.5, 0.343,8.1, 0.363,8.6, 0.278,4.8, 0.213,5.4, 0.393,9.7, 0.424,10.5, 0.489,9.7, 0.26,6.5, 0.27,6.0, 0.28,6.6, 0.29,7.0, 0.3,7.6, 0.31,7.9, 0.32,8.2, 0.33,8.6, 0.34,9.0, 0.35,9.0, 0.36,9.3, 0.37,9.6, 0.38,9.8, 0.25,4.9, 0.24,4.2, 0.23,5.0],
  [0.148,7.5, 0.143,6.5, 0.168,5.9, 0.173,7.0, 0.178,5.9, 0.183,5.4, 0.188,6.7, 0.193,7.5, 0.198,6.2, 0.203,7.3, 0.208,8.1, 0.213,6.7, 0.218,7.5, 0.223,8.3, 0.228,7.0, 0.233,8.1, 0.238,8.6, 0.178,4.3, 0.188,4.8, 0.168,4.8, 0.198,5.1, 0.248,7.8, 0.268,9.4, 0.288,9.7, 0.308,10.0, 0.318,10.2, 0.338,10.8, 0.358,11.0, 0.378,11.3, 0.398,11.8, 0.408,12.4, 0.418,12.9, 0.428,13.2, 0.438,12.7, 0.448,12.9, 0.458,12.4, 0.318,6.5, 0.278,5.9, 0.258,5.9, 0.303,8.6, 0.328,8.6, 0.348,9.7, 0.368,10.5, 0.388,10.8, 0.175,6.3, 0.185,6.0, 0.19,7.2, 0.195,6.8, 0.2,7.8, 0.205,6.4, 0.21,7.4, 0.215,8.0, 0.22,6.9, 0.18,6.8, 0.185,7.6, 0.19,5.6, 0.2,5.8, 0.205,8.6],
  [0.223,5.6, 0.233,6.1, 0.238,5.0, 0.243,5.8, 0.248,6.6, 0.253,5.3, 0.258,6.4, 0.263,7.2, 0.268,6.6, 0.273,7.7, 0.278,6.9, 0.283,8.0, 0.288,7.4, 0.293,8.5, 0.298,8.0, 0.303,9.1, 0.308,8.5, 0.313,9.3, 0.318,8.8, 0.323,9.6, 0.328,9.1, 0.333,9.9, 0.338,9.3, 0.343,10.1, 0.308,10.1, 0.313,10.7, 0.248,4.7, 0.258,5.8, 0.278,6.1, 0.288,6.6, 0.228,5.0, 0.358,12.3, 0.378,12.0, 0.393,10.7, 0.403,11.5, 0.418,10.7, 0.428,10.1, 0.368,11.5, 0.348,10.4, 0.383,10.9, 0.255,6.9, 0.26,5.0, 0.265,6.0, 0.27,7.0, 0.275,6.4, 0.28,7.6, 0.285,7.0, 0.29,7.8, 0.295,7.4, 0.3,8.6, 0.305,8.0, 0.31,9.0, 0.315,8.4, 0.32,9.4, 0.325,8.6, 0.33,9.6, 0.245,5.4, 0.25,6.0, 0.24,6.4, 0.235,5.6],
  [0.147,5.8, 0.152,6.6, 0.162,6.1, 0.172,6.9, 0.182,6.4, 0.147,5.0, 0.162,5.0, 0.177,5.3, 0.192,7.2, 0.202,6.6, 0.207,7.4, 0.217,8.0, 0.227,8.5, 0.232,7.7, 0.242,9.1, 0.247,8.2, 0.252,9.6, 0.262,9.1, 0.272,9.9, 0.282,9.3, 0.287,10.4, 0.297,9.6, 0.302,10.7, 0.317,10.9, 0.327,10.4, 0.252,12.3, 0.262,11.2, 0.207,5.2, 0.222,9.1, 0.237,6.9, 0.277,8.0, 0.292,8.5, 0.342,10.1, 0.352,11.5, 0.272,11.5, 0.2,7.8, 0.21,7.0, 0.22,7.4, 0.23,8.9, 0.24,8.0, 0.25,8.6, 0.26,8.4, 0.27,9.0, 0.28,9.8, 0.255,9.0],
  [0.173,9.3, 0.183,9.6, 0.193,10.1, 0.198,10.9, 0.208,10.7, 0.213,9.6, 0.218,10.4, 0.203,8.8, 0.188,8.2, 0.198,7.7, 0.208,7.2, 0.223,8.0, 0.213,8.5, 0.233,9.1, 0.243,8.5, 0.248,9.6, 0.258,9.3, 0.268,9.9, 0.278,9.6, 0.288,9.3, 0.298,10.1, 0.253,10.7, 0.273,10.7, 0.228,7.4, 0.218,6.6, 0.238,7.2, 0.304,9.1, 0.314,9.6, 0.329,10.7, 0.163,10.1, 0.18,8.9, 0.19,9.0, 0.195,9.4, 0.2,8.4, 0.205,9.8, 0.21,9.1, 0.215,7.8, 0.22,9.0, 0.225,8.6, 0.23,9.6, 0.235,8.0, 0.2,7.4],
  [0.338,9.6, 0.348,10.1, 0.358,9.6, 0.368,10.4, 0.373,9.9, 0.378,10.7, 0.383,10.1, 0.388,10.9, 0.393,10.4, 0.398,9.6, 0.403,10.9, 0.408,10.1, 0.368,9.1, 0.388,9.1, 0.418,11.2, 0.438,11.5, 0.459,11.8, 0.479,12.3, 0.489,12.6, 0.353,8.8, 0.428,10.7, 0.398,8.5, 0.37,9.6, 0.375,10.3, 0.38,9.4, 0.385,10.6, 0.39,9.8, 0.395,11.0, 0.4,10.2, 0.405,9.5, 0.41,10.6, 0.36,10.0],
  [0.215,11.5, 0.23,10.7, 0.24,10.1, 0.242,10.7, 0.252,10.1, 0.262,9.6, 0.272,9.1, 0.282,9.9, 0.292,9.3, 0.302,8.8, 0.312,9.6, 0.322,9.1, 0.332,9.3, 0.342,9.9, 0.352,9.6, 0.362,10.1, 0.372,10.7, 0.382,10.9, 0.277,8.2, 0.292,8.5, 0.307,8.0, 0.317,8.5, 0.332,10.7, 0.352,11.2, 0.267,10.7],
  [0.303,8.0, 0.313,8.5, 0.323,8.8, 0.328,8.2, 0.333,9.1, 0.338,8.0, 0.343,8.5, 0.348,9.3, 0.318,7.4, 0.333,7.2, 0.353,8.8, 0.363,9.6, 0.394,10.4, 0.404,9.6, 0.434,11.2, 0.273,5.8, 0.288,6.1, 0.22,3.4, 0.258,6.9],
  [0.378,12.0, 0.398,11.2, 0.418,11.8, 0.438,12.3, 0.368,9.1, 0.393,9.6, 0.318,9.6, 0.443,11.5, 0.458,11.5]
]

const byMonth = [MAY, JUN, JUL, AUG, SEP]

function pairs(flat) {
  const out = []
  for (let i = 0; i < flat.length; i += 2) out.push([flat[i], flat[i + 1]])
  return out
}

const FONT = '"Liberation Serif", "DejaVu Serif", serif'
const boxLine = { show: true, onZero: false, lineStyle: { color: '#000', width: 2 } }
const inTick = { show: true, inside: true, length: 10, lineStyle: { color: '#000', width: 2 } }
const labelFont = { fontSize: 23, fontWeight: 'bold', fontFamily: FONT, color: '#000' }
const nameFont = { fontSize: 24, fontWeight: 'bold', fontFamily: FONT, color: '#000' }

const grids = [], xAxes = [], yAxes = [], series = [], graphics = []

years.forEach((yr, k) => {
  const row = Math.floor(k / 7), col = k % 7
  const left = 81 + 152.2 * col
  const top = row === 0 ? 48 : 286.7
  // panels at the right edge run off the page, as in the original
  grids.push({ left: left, top: top, width: 140, height: 186, containLabel: false, outerBoundsMode: 'none' })

  const xBase = {
    gridIndex: k, type: 'value', min: 0.078, max: 0.5,
    axisLine: boxLine, splitLine: { show: false }
  }
  xAxes.push(Object.assign({}, xBase, {
    position: 'bottom',
    axisTick: Object.assign({}, inTick, { customValues: xTicks }),
    axisLabel: Object.assign({}, labelFont, {
      show: row === 1, customValues: xLabels, margin: 12,
      formatter: v => v.toFixed(1)
    }),
    name: k === 10 ? 'CH4 (ppmv)' : '', nameLocation: 'middle', nameGap: 40,
    nameTextStyle: nameFont
  }))
  xAxes.push(Object.assign({}, xBase, {
    position: 'top',
    axisTick: Object.assign({}, inTick, { customValues: xTicks }),
    axisLabel: { show: false }
  }))

  const yBase = {
    gridIndex: k, type: 'value', min: 0, max: 30, interval: 2.5,
    axisLine: boxLine, axisTick: inTick, splitLine: { show: false }
  }
  yAxes.push(Object.assign({}, yBase, {
    position: 'left',
    axisLabel: Object.assign({}, labelFont, {
      show: col === 0, margin: 7, showMinLabel: true, showMaxLabel: true,
      formatter: v => {
        if (v % 5 !== 0) return ''
        if (v === 0) return '{lo|0}'
        if (v === 30) return '{hi|30}'
        return String(v)
      },
      rich: {
        lo: Object.assign({}, labelFont, { padding: [0, 0, 16, 0] }),
        hi: Object.assign({}, labelFont, { padding: [14, 0, 0, 0] })
      }
    }),
    name: col === 0 ? 'NOx (ppbv)' : '', nameLocation: 'middle', nameGap: 44,
    nameTextStyle: nameFont
  }))
  yAxes.push(Object.assign({}, yBase, { position: 'right', axisLabel: { show: false } }))

  byMonth.forEach((arr, m) => {
    series.push({
      type: 'scatter', name: months[m],
      xAxisIndex: 2 * k, yAxisIndex: 2 * k,
      data: pairs(arr[k]),
      symbol: 'rect', symbolSize: 4,
      itemStyle: { color: monthColors[m] },
      silent: true
    })
  })

  graphics.push({
    type: 'text', x: left + 70, y: row === 0 ? 26 : 266,
    style: { text: String(yr), align: 'center', verticalAlign: 'middle',
      font: 'bold 30px ' + FONT, fill: '#000' }
  })
})

// month key, written inside the first two panels
const keyPos = [[157, 78], [157, 100], [157, 118], [310, 80], [310, 100]]
months.forEach((m, i) => {
  graphics.push({
    type: 'text', x: keyPos[i][0], y: keyPos[i][1],
    style: { text: m, align: 'left', verticalAlign: 'middle',
      font: 'bold 24px ' + FONT, fill: monthColors[i] }
  })
})

const chart = echarts.init(document.getElementById('chart'))
chart.setOption({
  animation: false,
  backgroundColor: '#fff',
  grid: grids,
  xAxis: xAxes,
  yAxis: yAxes,
  series: series,
  graphic: graphics
})
</script>
</body>
</html>
